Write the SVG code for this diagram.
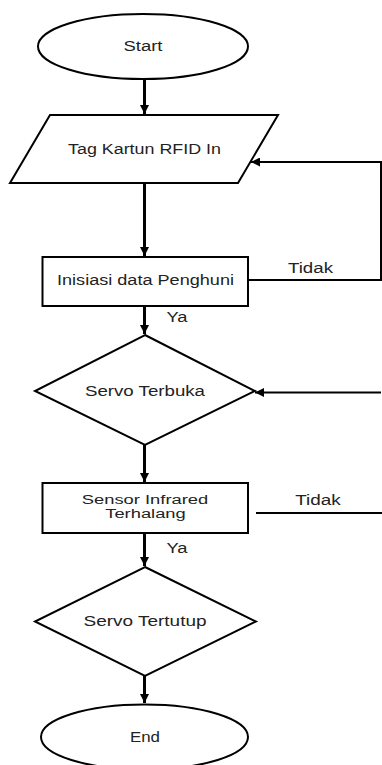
<svg xmlns="http://www.w3.org/2000/svg" width="382" height="765" viewBox="0 0 382 765">
  <style>
    .shape { fill: #ffffff; stroke: #000000; stroke-width: 2; }
    .label { font-family: "Liberation Sans", Arial, sans-serif; font-size: 14px; fill: #222222; text-anchor: middle; }
    .tight { font-size: 12px; }
    .flow { fill: none; stroke: #000000; stroke-width: 3; }
    .loop { fill: none; stroke: #000000; stroke-width: 2; }
  </style>
  <defs>
    <marker id="arrow" viewBox="0 0 10 10" refX="10" refY="5" markerWidth="9" markerHeight="9" markerUnits="userSpaceOnUse" orient="auto">
      <path d="M0,0 L10,5 L0,10 Z" fill="#000000"/>
    </marker>
  </defs>
  <rect width="382" height="765" fill="#ffffff"/>

  <g id="connectors">
    <line class="flow" x1="144.5" y1="79" x2="144.5" y2="114" marker-end="url(#arrow)"/>
    <line class="flow" x1="144.5" y1="183" x2="144.5" y2="256" marker-end="url(#arrow)"/>
    <polyline class="loop" points="248,280 381,280 381,162 251,162" marker-end="url(#arrow)"/>
    <line class="flow" x1="144.5" y1="306" x2="144.5" y2="334" marker-end="url(#arrow)"/>
    <line class="loop" x1="381" y1="392.5" x2="255" y2="392.5" marker-end="url(#arrow)"/>
    <line class="flow" x1="144.5" y1="445" x2="144.5" y2="482" marker-end="url(#arrow)"/>
    <line class="loop" x1="256" y1="513" x2="382" y2="513"/>
    <line class="flow" x1="144.5" y1="533" x2="144.5" y2="566" marker-end="url(#arrow)"/>
    <line class="flow" x1="144.5" y1="676" x2="144.5" y2="703" marker-end="url(#arrow)"/>
    <text class="label" x="310.5" y="273" textLength="45" lengthAdjust="spacingAndGlyphs">Tidak</text>
    <text class="label" x="177" y="322" textLength="21" lengthAdjust="spacingAndGlyphs">Ya</text>
    <text class="label" x="318" y="505" textLength="45.5" lengthAdjust="spacingAndGlyphs">Tidak</text>
    <text class="label" x="177" y="553" textLength="21" lengthAdjust="spacingAndGlyphs">Ya</text>
  </g>

  <g id="start">
    <ellipse class="shape" cx="143" cy="46.5" rx="105" ry="32.5"/>
    <text class="label" x="143" y="51" textLength="39" lengthAdjust="spacingAndGlyphs">Start</text>
  </g>

  <g id="tag-rfid">
    <polygon class="shape" points="50,115 278,115 238,183 10,183"/>
    <text class="label" x="144.5" y="154" textLength="153" lengthAdjust="spacingAndGlyphs">Tag Kartun RFID In</text>
  </g>

  <g id="inisiasi">
    <rect class="shape" x="42.5" y="257" width="205.5" height="49"/>
    <text class="label" x="145.5" y="285" textLength="177" lengthAdjust="spacingAndGlyphs">Inisiasi data Penghuni</text>
  </g>

  <g id="servo-terbuka">
    <polygon class="shape" points="145,335 255,391 145,445 35,391"/>
    <text class="label" x="145" y="395.5" textLength="120" lengthAdjust="spacingAndGlyphs">Servo Terbuka</text>
  </g>

  <g id="sensor-infrared">
    <rect class="shape" x="42.5" y="483" width="205.5" height="50"/>
    <text class="label tight" x="145" y="504" textLength="126.5" lengthAdjust="spacingAndGlyphs">Sensor Infrared</text>
    <text class="label tight" x="145.5" y="517.5" textLength="80.5" lengthAdjust="spacingAndGlyphs">Terhalang</text>
  </g>

  <g id="servo-tertutup">
    <polygon class="shape" points="145,567 256,621.5 145,676 35,621.5"/>
    <text class="label" x="145" y="626" textLength="123" lengthAdjust="spacingAndGlyphs">Servo Tertutup</text>
  </g>

  <g id="end">
    <ellipse class="shape" cx="144.5" cy="737" rx="103.5" ry="32.5"/>
    <text class="label" x="145" y="741.5" textLength="30" lengthAdjust="spacingAndGlyphs">End</text>
  </g>
</svg>
